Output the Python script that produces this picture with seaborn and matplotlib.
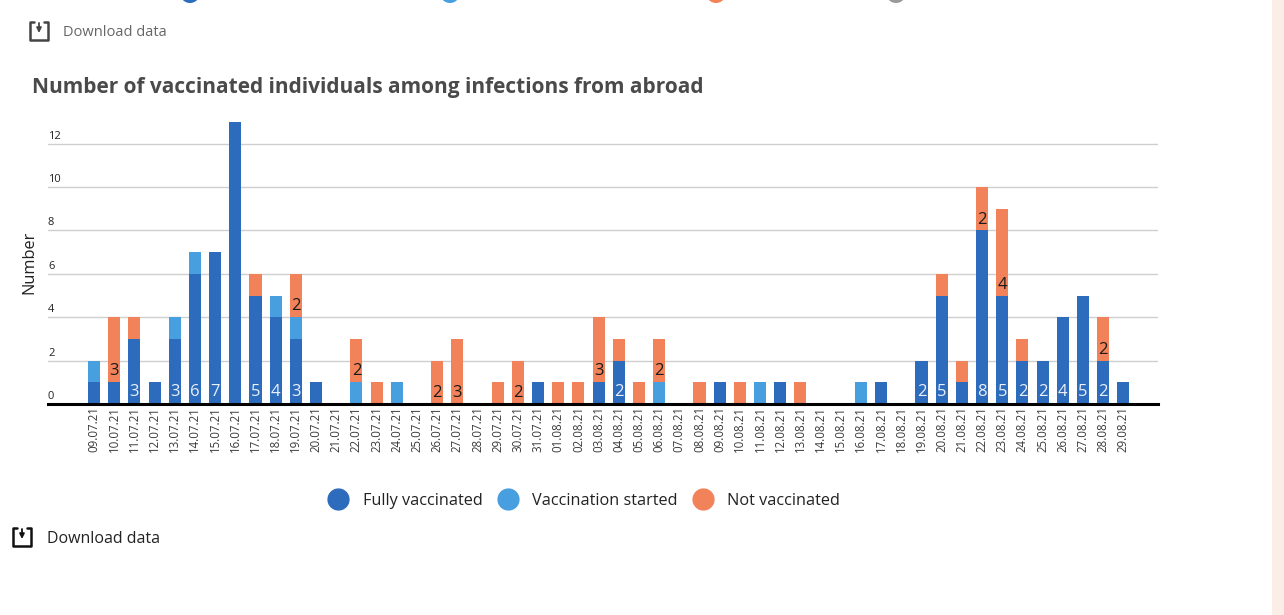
import matplotlib
matplotlib.use("Agg")
import matplotlib.pyplot as plt
import matplotlib.transforms as mtrans
from matplotlib.lines import Line2D
from matplotlib.patches import Rectangle, Circle
import seaborn as sns

dates = ["09.07.21", "10.07.21", "11.07.21", "12.07.21", "13.07.21", "14.07.21", "15.07.21", "16.07.21",
         "17.07.21", "18.07.21", "19.07.21", "20.07.21", "21.07.21", "22.07.21", "23.07.21", "24.07.21",
         "25.07.21", "26.07.21", "27.07.21", "28.07.21", "29.07.21", "30.07.21", "31.07.21", "01.08.21",
         "02.08.21", "03.08.21", "04.08.21", "05.08.21", "06.08.21", "07.08.21", "08.08.21", "09.08.21",
         "10.08.21", "11.08.21", "12.08.21", "13.08.21", "14.08.21", "15.08.21", "16.08.21", "17.08.21",
         "18.08.21", "19.08.21", "20.08.21", "21.08.21", "22.08.21", "23.08.21", "24.08.21", "25.08.21",
         "26.08.21", "27.08.21", "28.08.21", "29.08.21"]
fully = [1, 1, 3, 1, 3, 6, 7, 13, 5, 4, 3, 1, 0, 0, 0, 0, 0, 0, 0, 0, 0, 0, 1, 0, 0, 1,
         2, 0, 0, 0, 0, 1, 0, 0, 1, 0, 0, 0, 0, 1, 0, 2, 5, 1, 8, 5, 2, 2, 4, 5, 2, 1]
started = [1, 0, 0, 0, 1, 1, 0, 0, 0, 1, 1, 0, 0, 1, 0, 1, 0, 0, 0, 0, 0, 0, 0, 0, 0, 0,
           0, 0, 1, 0, 0, 0, 0, 1, 0, 0, 0, 0, 1, 0, 0, 0, 0, 0, 0, 0, 0, 0, 0, 0, 0, 0]
not_vacc = [0, 3, 1, 0, 0, 0, 0, 0, 1, 0, 2, 0, 0, 2, 1, 0, 0, 2, 3, 0, 1, 2, 0, 1, 1, 3,
            1, 1, 2, 0, 1, 0, 1, 0, 0, 1, 0, 0, 0, 0, 0, 0, 1, 1, 2, 4, 1, 0, 0, 0, 2, 0]
series_names = ["Fully vaccinated", "Vaccination started", "Not vaccinated"]
y_ticks = [0, 2, 4, 6, 8, 10, 12]

BLUE = "#2d6bbd"
LIGHT = "#479fe0"
ORANGE = "#f28259"
FONT = ["Open Sans", "DejaVu Sans"]

sns.set_theme(style="whitegrid")
plt.rcParams["font.family"] = FONT

W, H = 1284, 615
fig = plt.figure(figsize=(W / 100, H / 100), dpi=100, facecolor="white")

# plot area in reference pixels
left, right, base, top = 48, 1158, 404, 120
ax = fig.add_axes([left / W, 1 - base / H, (right - left) / W, (base - top) / H])
ax.set_facecolor("none")

bottom_started = [a for a in fully]
bottom_not = [a + b for a, b in zip(fully, started)]
sns.barplot(x=dates, y=fully, color=BLUE, saturation=1, width=0.6, linewidth=0, ax=ax)
sns.barplot(x=dates, y=started, bottom=bottom_started, color=LIGHT, saturation=1, width=0.6, linewidth=0, ax=ax)
sns.barplot(x=dates, y=not_vacc, bottom=bottom_not, color=ORANGE, saturation=1, width=0.6, linewidth=0, ax=ax)

ax.set_xlim(-2.28, 52.72)
ax.set_ylim(0, (base - top) / 21.7)
ax.set_axisbelow(True)
ax.grid(False)
ax.yaxis.grid(True, color="#cfcfcf", linewidth=1.0)
ax.xaxis.grid(False)
for side in ["top", "left", "right"]:
    ax.spines[side].set_visible(False)
ax.spines["bottom"].set_color("black")
ax.spines["bottom"].set_linewidth(2.2)
ax.set_zorder(2)

ax.set_yticks(y_ticks)
ax.set_yticklabels([str(t) for t in y_ticks])
ax.tick_params(axis="y", length=0, pad=0, labelsize=8, labelcolor="#222222")
shift = mtrans.ScaledTranslation(0, 2 / 100, fig.dpi_scale_trans)
for lab in ax.get_yticklabels():
    lab.set_ha("left")
    lab.set_va("bottom")
    lab.set_transform(lab.get_transform() + shift)

ax.tick_params(axis="x", length=0, pad=1.5, labelsize=8.3, labelcolor="#3a3a3a")
plt.setp(ax.get_xticklabels(), rotation=90, ha="center", va="top")
ax.set_xlabel("")
ax.set_ylabel("")

# value labels, only for 2 or more (the tallest bar has none in the original)
for i, v in enumerate(fully):
    if 2 <= v < max(fully):
        ax.text(i, 0.55, str(v), color="white", fontsize=12, ha="center", va="center", alpha=0.9)
for i, v in enumerate(not_vacc):
    if v >= 2:
        ax.text(i, bottom_not[i] + 0.5, str(v), color="#1a1a1a", fontsize=12, ha="center", va="center")

# overlay in pixel coordinates for the page furniture
page = fig.add_axes([0, 0, 1, 1], zorder=1)
page.set_xlim(0, W)
page.set_ylim(H, 0)
page.axis("off")
page.add_patch(Rectangle((1272, 0), 12, H, color="#fbeee7", lw=0))
for cx, col in zip([190, 450, 716, 896], [BLUE, LIGHT, ORANGE, "#999999"]):
    page.add_patch(Circle((cx, -7), 10, color=col, lw=0, clip_on=True))


def download_icon(x, y, color):
    page.plot([x + 4, x, x, x + 18, x + 18, x + 14], [y, y, y + 18, y + 18, y, y], color=color, lw=1.8)
    page.annotate("", xy=(x + 9, y + 11), xytext=(x + 9, y + 1),
                  arrowprops=dict(arrowstyle="-|>", color=color, lw=1.3, mutation_scale=7, shrinkA=0, shrinkB=0))


download_icon(30, 22, "#444444")
download_icon(13, 528, "#111111")
page.text(63, 33, "Download data", fontsize=10.5, color="#666666", va="center")
page.text(47, 539, "Download data", fontsize=11.5, color="#222222", va="center")
page.text(32, 88, "Number of vaccinated individuals among infections from abroad",
          fontsize=15, fontweight="bold", color="#4a4a4a", va="center")
page.text(29, 262, "Number", fontsize=11.8, color="#222222", rotation=90, ha="center", va="center")

handles = [Line2D([], [], marker="o", linestyle="", markersize=15, color=c) for c in [BLUE, LIGHT, ORANGE]]
fig.legend(handles, series_names, loc="center", bbox_to_anchor=(581 / W, 1 - 501 / H), ncol=3, frameon=False,
           fontsize=11.7, handletextpad=0.5, columnspacing=0.55, labelcolor="#222222")

fig.savefig("out.png", dpi=100)
